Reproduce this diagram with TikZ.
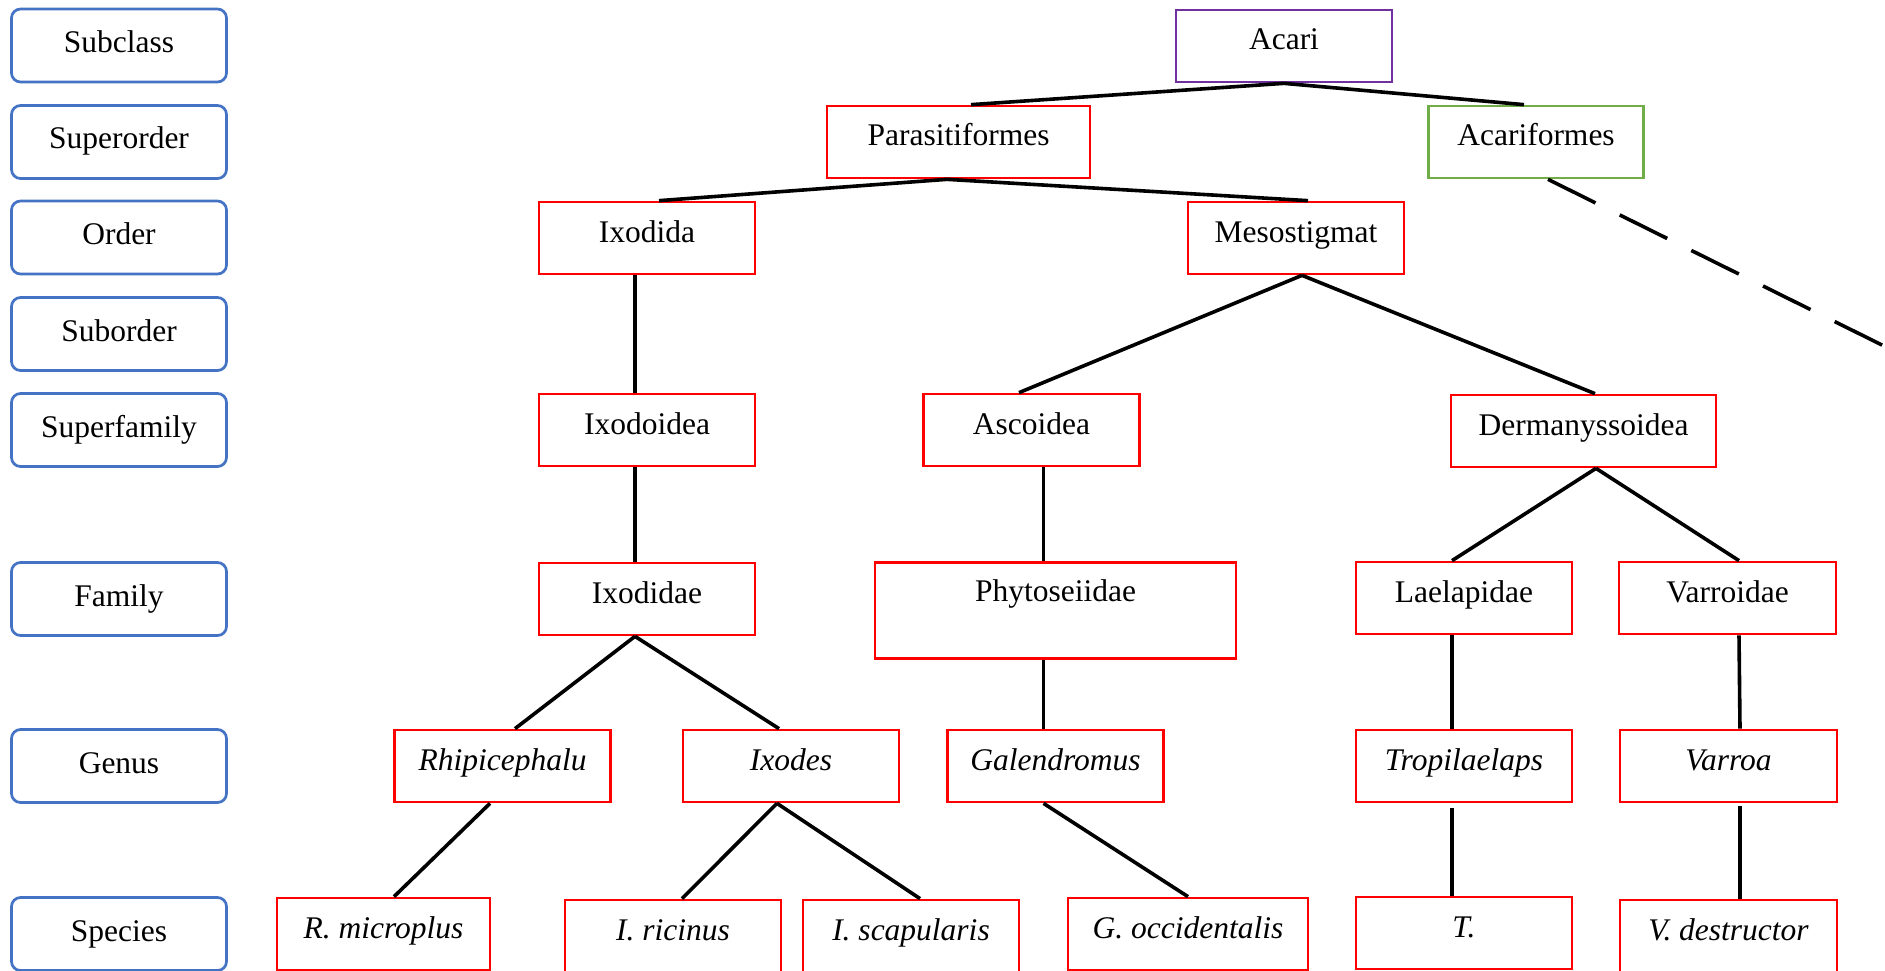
\documentclass[tikz,border=0pt]{standalone}
\usepackage{fontspec}
\setmainfont{Liberation Serif}
\usetikzlibrary{calc}
\definecolor{boxred}{HTML}{FF0000}
\definecolor{boxpurple}{HTML}{7030A0}
\definecolor{boxgreen}{HTML}{70AD47}
\definecolor{boxblue}{HTML}{4472C4}
\begin{document}
\begin{tikzpicture}[x=1pt,y=-1pt,
  base/.style={rectangle, line width=2.7pt, inner sep=0pt, font=\fontsize{31.5}{36}\selectfont,
    minimum width=216pt, minimum height=72pt, text height=22pt, text depth=14pt},
  rbox/.style={base, draw=boxred},
  lbox/.style={base, draw=boxblue, rounded corners=9pt, minimum width=215pt, minimum height=73pt,
    text height=24pt, text depth=10pt},
  conn/.style={line width=3.6pt}]
\useasboundingbox[fill=white] (0,0) rectangle (1885,971);

% rank labels
\node[lbox] (lsubclass) at (119,45.5) {Subclass};
\node[lbox] (lsuperorder) at (119,142) {Superorder};
\node[lbox] (lorder) at (119,237.5) {Order};
\node[lbox] (lsuborder) at (119,334) {Suborder};
\node[lbox] (lsuperfamily) at (119,430) {Superfamily};
\node[lbox] (lfamily) at (119,599) {Family};
\node[lbox] (lgenus) at (119,766) {Genus};
\node[lbox] (lspecies) at (119,934) {Species};

% taxa
\node[base, draw=boxpurple] (acari) at (1284,46) {Acari};
\node[rbox, minimum width=263pt] (par) at (958.5,142) {Parasitiformes};
\node[base, draw=boxgreen, minimum width=215pt] (acf) at (1536,142) {Acariformes};
\node[rbox] (ixa) at (647,238) {Ixodida};
\node[rbox] (meso) at (1296,238) {Mesostigmat};
\node[rbox] (ixo) at (647,430) {Ixodoidea};
\node[rbox] (asc) at (1031.5,430) {Ascoidea};
\node[rbox, minimum width=265pt] (derm) at (1583.5,431) {Dermanyssoidea};
\node[rbox] (ixe) at (647,599) {Ixodidae};
\node[rbox, minimum width=361pt, minimum height=96pt, text depth=40pt] (phy) at (1055.5,610.5) {Phytoseiidae};
\node[rbox] (lae) at (1464,598) {Laelapidae};
\node[rbox, minimum width=217pt] (var) at (1727.5,598) {Varroidae};
\node[rbox] (rhi) at (502.5,766) {\itshape Rhipicephalu};
\node[rbox] (ixs) at (791,766) {\itshape Ixodes};
\node[rbox] (gal) at (1055.5,766) {\itshape Galendromus};
\node[rbox] (tro) at (1464,766) {\itshape Tropilaelaps};
\node[rbox, minimum width=217pt] (vrr) at (1728.5,766) {\itshape Varroa};
\node[rbox, minimum width=213pt] (rmi) at (383.5,934) {\itshape R. microplus};
\node[rbox] (iri) at (673,936) {\itshape I. ricinus};
\node[rbox] (isc) at (911,936) {\itshape I. scapularis};
\node[rbox, minimum width=240pt] (goc) at (1188,934) {\itshape G. occidentalis};
\node[rbox] (tt) at (1464,933) {\itshape T.};
\node[rbox, minimum width=217pt] (vde) at (1728.5,936) {\itshape V. destructor};

\coordinate (dashend) at (1890,349);

% connectors
\draw[conn] (acari.south) -- ($(par.north)+(12.5,0)$);
\draw[conn] (acari.south) -- ($(acf.north)+(-12,0)$);
\draw[conn] ($(par.south)+(-11.5,0)$) -- ($(ixa.north)+(12,0)$);
\draw[conn] ($(par.south)+(-11.5,0)$) -- ($(meso.north)+(12,0)$);
\draw[conn, dash pattern=on 53pt off 27pt] ($(acf.south)+(12,0)$) -- (dashend);
\draw[conn] ($(ixa.south)+(-12,0)$) -- ($(ixo.north)+(-12,0)$);
\draw[conn] ($(meso.south)+(6,0)$) -- ($(asc.north)+(-12.5,0)$);
\draw[conn] ($(meso.south)+(6,0)$) -- ($(derm.north)+(11.5,0)$);
\draw[conn] ($(ixo.south)+(-12,0)$) -- ($(ixe.north)+(-12,0)$);
\draw[conn] ($(asc.south)+(12,0)$) -- ($(phy.north)+(-12,0)$);
\draw[conn] ($(derm.south)+(12.5,0)$) -- ($(lae.north)+(-12,0)$);
\draw[conn] ($(derm.south)+(12.5,0)$) -- ($(var.north)+(11.5,0)$);
\draw[conn] ($(ixe.south)+(-12,0)$) -- ($(rhi.north)+(12.5,0)$);
\draw[conn] ($(ixe.south)+(-12,0)$) -- ($(ixs.north)+(-12,0)$);
\draw[conn] ($(phy.south)+(-12,0)$) -- ($(gal.north)+(-12,0)$);
\draw[conn] ($(lae.south)+(-12,0)$) -- ($(tro.north)+(-12,0)$);
\draw[conn] ($(var.south)+(11.5,0)$) -- ($(vrr.north)+(11.5,0)$);
\draw[conn] ($(rhi.south)+(-12.5,0)$) -- ($(rmi.north)+(10.5,0)$);
\draw[conn] ($(ixs.south)+(-14,0)$) -- ($(iri.north)+(9,0)$);
\draw[conn] ($(ixs.south)+(-14,0)$) -- ($(isc.north)+(9,0)$);
\draw[conn] ($(gal.south)+(-12,0)$) -- (goc.north);
\draw[conn] ($(tro.south)+(-12,5)$) -- ($(tt.north)+(-12,0)$);
\draw[conn] ($(vrr.south)+(11.5,3)$) -- ($(vde.north)+(11.5,0)$);
\end{tikzpicture}
\end{document}
